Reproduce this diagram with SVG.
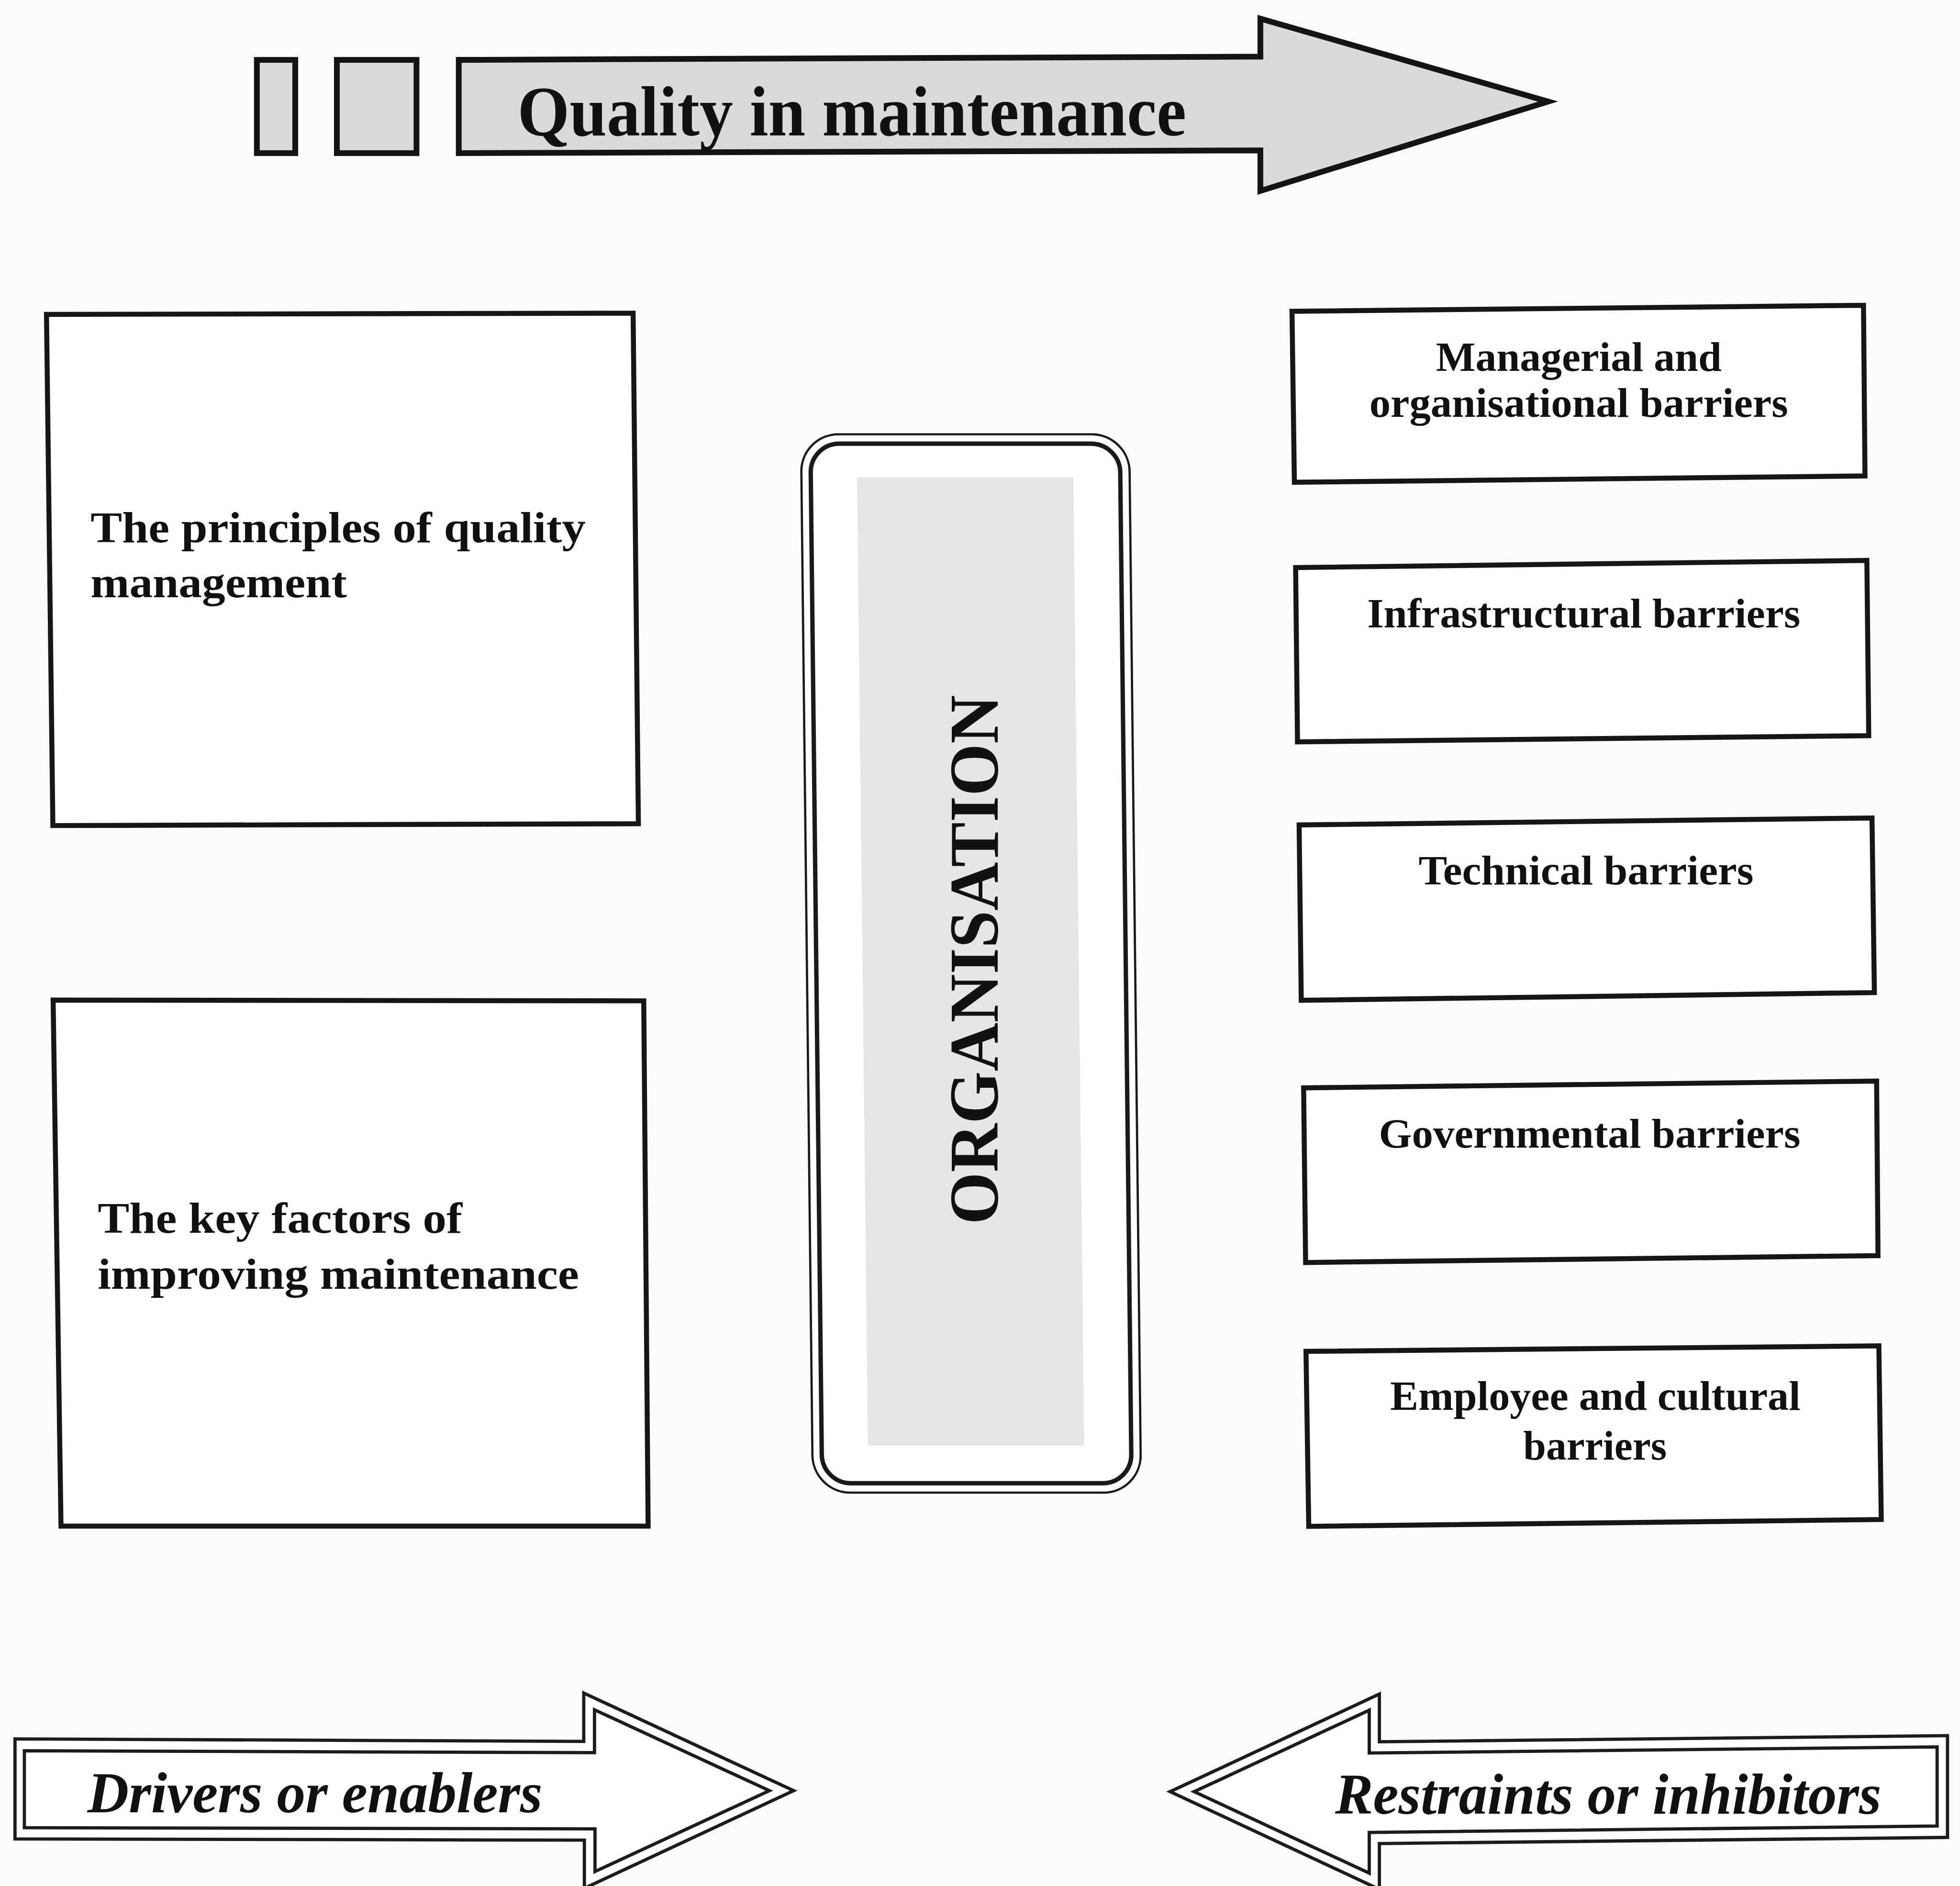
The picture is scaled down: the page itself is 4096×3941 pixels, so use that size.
<svg xmlns="http://www.w3.org/2000/svg" width="4096" height="3941" viewBox="0 0 4096 3941">
  <style>
    .box { fill: #ffffff; stroke: #161616; stroke-width: 4; stroke-linejoin: miter; }
    .grey { fill: #dadada; stroke: #141414; stroke-width: 4.6; stroke-linejoin: miter; }
    .dbl { fill: none; stroke: #1c1c1c; stroke-width: 2.6; stroke-linejoin: miter; }
    .txt { font-family: "Liberation Serif", "Times New Roman", serif; font-weight: bold; fill: #111111; }
    .left { font-size: 35px; }
    .right { font-size: 33px; text-anchor: middle; }
    .ital { font-size: 46px; font-style: italic; }
  </style>
  <rect x="0" y="0" width="4096" height="3941" fill="#fbfbfb"/>

  <!-- layout is drawn on a 1568-wide grid and scaled up to the full canvas -->
  <g transform="scale(2.612245)">

    <!-- heading arrow -->
    <g id="quality-in-maintenance">
      <rect class="grey" x="205.5" y="47.9" width="30.7" height="74.6"/>
      <rect class="grey" x="269.5" y="47.9" width="63.7" height="74.6"/>
      <path class="grey" d="M367,47.9 L1008.3,45.3 L1008.3,14.9 L1238.5,81.2 L1008.3,152.7 L1008.3,120.3 L367,122.5 Z"/>
      <text class="txt" x="414" y="108.5" font-size="57" textLength="535" lengthAdjust="spacingAndGlyphs">Quality in maintenance</text>
    </g>

    <!-- left column -->
    <g id="principles">
      <path class="box" d="M37.2,251.5 L506.5,250.5 L510.7,658.9 L42.3,660.4 Z"/>
      <text class="txt left" x="72.5" y="433.7" textLength="396" lengthAdjust="spacingAndGlyphs">The principles of quality</text>
      <text class="txt left" x="72.5" y="477.6" textLength="205" lengthAdjust="spacingAndGlyphs">management</text>
    </g>

    <g id="key-factors">
      <path class="box" d="M42.5,800 L515,800.6 L518.5,1220.8 L48.8,1220.8 Z"/>
      <text class="txt left" x="78.2" y="986.3" textLength="291.6" lengthAdjust="spacingAndGlyphs">The key factors of</text>
      <text class="txt left" x="78.2" y="1031" textLength="385" lengthAdjust="spacingAndGlyphs">improving maintenance</text>
    </g>

    <!-- central organisation panel -->
    <g id="organisation">
      <g transform="translate(0,770) skewX(0.643) translate(0,-770)">
        <rect x="645.5" y="347.4" width="262.6" height="846.6" rx="30" ry="30" fill="#ffffff" stroke="#1a1a1a" stroke-width="1.8"/>
        <rect x="653" y="354.9" width="247.6" height="831.6" rx="23" ry="23" fill="none" stroke="#1a1a1a" stroke-width="3.5"/>
        <rect x="690" y="381.7" width="173" height="774.8" fill="#e6e6e6"/>
      </g>
      <text class="txt" transform="translate(798,979.5) rotate(-90)" x="0" y="0" font-size="56" textLength="423.5" lengthAdjust="spacingAndGlyphs">ORGANISATION</text>
    </g>

    <!-- right column of barriers -->
    <g id="managerial">
      <path class="box" d="M1033.6,249 L1490.8,244.2 L1492,380.7 L1035.5,385.8 Z"/>
      <text class="txt right" x="1263" y="296.6" textLength="228.5" lengthAdjust="spacingAndGlyphs">Managerial and</text>
      <text class="txt right" x="1263" y="333.5" textLength="335" lengthAdjust="spacingAndGlyphs">organisational barriers</text>
    </g>

    <g id="infrastructural">
      <path class="box" d="M1036.5,454 L1493.5,448.3 L1495,588.5 L1038,593.4 Z"/>
      <text class="txt right" x="1267" y="502" textLength="346.5" lengthAdjust="spacingAndGlyphs">Infrastructural barriers</text>
    </g>

    <g id="technical">
      <path class="box" d="M1039.3,659.9 L1497.6,654.3 L1499.5,794 L1041,800.2 Z"/>
      <text class="txt right" x="1268.8" y="707.3" textLength="268" lengthAdjust="spacingAndGlyphs">Technical barriers</text>
    </g>

    <g id="governmental">
      <path class="box" d="M1042.9,870.2 L1501.3,864.8 L1502.4,1004.4 L1044.5,1009.9 Z"/>
      <text class="txt right" x="1271.7" y="918" textLength="337.3" lengthAdjust="spacingAndGlyphs">Governmental barriers</text>
    </g>

    <g id="employee">
      <path class="box" d="M1044.8,1081 L1503.1,1076.6 L1505,1215.5 L1047,1221 Z"/>
      <text class="txt right" x="1276.3" y="1127.6" textLength="328.2" lengthAdjust="spacingAndGlyphs">Employee and cultural</text>
      <text class="txt right" x="1276" y="1167.4" textLength="114.8" lengthAdjust="spacingAndGlyphs">barriers</text>
    </g>

    <!-- bottom double-outlined arrows -->
    <g id="drivers">
      <path d="M12,1391 L467,1393 L467,1354.3 L634.9,1432.4 L467.5,1510.5 L467.5,1472 L12,1471 Z" fill="#ffffff" stroke="#1c1c1c" stroke-width="2.6"/>
      <path class="dbl" d="M19.5,1400.5 L475.6,1402 L475.6,1367.7 L615.5,1432.4 L476,1497.1 L476,1463 L19.5,1462 Z"/>
      <text class="txt ital" x="70" y="1449.7" textLength="364" lengthAdjust="spacingAndGlyphs">Drivers or enablers</text>
    </g>

    <g id="restraints">
      <path d="M1558,1388.4 L1103.5,1393.3 L1103.5,1355.1 L936.1,1433.2 L1103.5,1511.3 L1103.5,1474.7 L1558,1469.8 Z" fill="#ffffff" stroke="#1c1c1c" stroke-width="2.6"/>
      <path class="dbl" d="M1549.7,1397.4 L1095.4,1402.3 L1095.4,1368 L955.3,1433.2 L1095.4,1498.4 L1095.4,1465.8 L1549.7,1460.7 Z"/>
      <text class="txt ital" x="1068" y="1451" textLength="437" lengthAdjust="spacingAndGlyphs">Restraints or inhibitors</text>
    </g>

    <!-- no connectors in this figure -->
    <g id="connectors"/>
  </g>
</svg>
